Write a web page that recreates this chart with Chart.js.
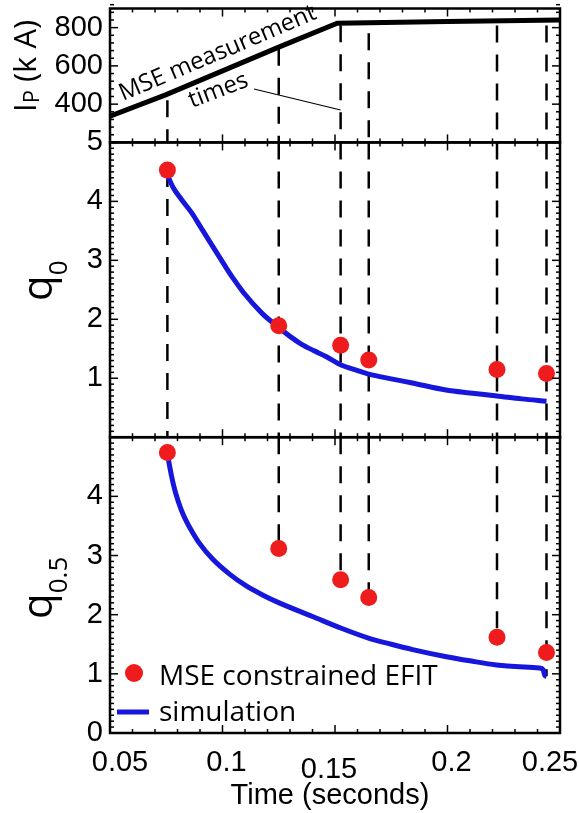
<!DOCTYPE html>
<html>
<head>
<meta charset="utf-8">
<script src="https://cdn.jsdelivr.net/npm/chart.js@4.4.1/dist/chart.umd.min.js"></script>
<style>
html,body{margin:0;padding:0;background:#fff;}
#wrap{width:579px;height:813px;}
</style>
</head>
<body>
<div id="wrap"><canvas id="c" width="579" height="813"></canvas></div>
<script>
/* ===== data ===== */
const mseTimes = [0.0755, 0.125, 0.1525, 0.165, 0.222, 0.244];
const q0Efit   = [4.53, 1.89, 1.56, 1.31, 1.15, 1.08];
const q05Efit  = [4.74, 3.12, 2.59, 2.29, 1.62, 1.36];

const ipTime = [0.05, 0.075, 0.125, 0.151, 0.2, 0.25];
const ipKA   = [337, 450, 698, 823, 832, 840];

// extents of the dashed "MSE measurement times" markers in each panel
const ipDashTop  = [420, 690, 812, 770, 811, 811];
const q0DashTop  = [4.53, 5, 5, 5, 5, 5];
const q05DashEnd = [null, 3.12, 2.59, 2.29, 1.62, 0.96];

const q0SimT = [0.0755, 0.078, 0.0816, 0.0864, 0.09, 0.0946, 0.1012, 0.105, 0.1094, 0.1176, 0.125,
                0.13, 0.135, 0.1405, 0.146, 0.1525, 0.16, 0.165, 0.175, 0.1844, 0.1993, 0.21, 0.222, 0.233, 0.244];
const q0Sim  = [4.45, 4.24, 4.04, 3.80, 3.58, 3.30, 2.90, 2.68, 2.45, 2.10, 1.86,
                1.71, 1.58, 1.47, 1.37, 1.23, 1.13, 1.07, 0.99, 0.92, 0.80, 0.75, 0.70, 0.65, 0.61];

const q05SimT = [0.0755, 0.0764, 0.078, 0.0793, 0.0815, 0.0838, 0.0867, 0.0897, 0.0956, 0.103, 0.1104, 0.118, 0.1252,
                 0.14, 0.1528, 0.1652, 0.175, 0.1845, 0.1995, 0.21, 0.2217, 0.232, 0.2408, 0.2425, 0.2433, 0.244];
const q05Sim  = [4.74, 4.53, 4.23, 4.04, 3.79, 3.59, 3.39, 3.21, 2.94, 2.69, 2.49, 2.33, 2.20,
                 1.97, 1.77, 1.60, 1.50, 1.41, 1.29, 1.22, 1.15, 1.12, 1.10, 1.07, 0.97, 0.96];

const xTicks      = [0.05, 0.1, 0.15, 0.2, 0.25];
const xTickLabels = ["0.05", "0.1", "0.15", "0.2", "0.25"];
const ipTicks  = [400, 600, 800];
const q0Ticks  = [1, 2, 3, 4, 5];
const q05Ticks = [0, 1, 2, 3, 4];

/* ===== styles ===== */
const RED = "#ee1c1c", BLUE = "#1616dc";
const TICK_FONT = '"Liberation Sans", Arial, sans-serif';
const LABEL_FONT = '"Open Sans", "Noto Sans", sans-serif';

const pts = (xs, ys) => xs.map((x, i) => ({x, y: ys[i]}));
const dashSet = (t, a, b, axis) => ({
    data: [{x: t, y: a}, {x: t, y: b}], yAxisID: axis, showLine: true,
    borderColor: "#000", borderWidth: 2.5, borderDash: [17, 12], pointRadius: 0, order: 10
});

const datasets = [];
mseTimes.forEach((t, i) => {
    datasets.push(dashSet(t, ipDashTop[i], 200, "yIp"));
    datasets.push(dashSet(t, q0DashTop[i], 0, "yQ0"));
    if (q05DashEnd[i] != null) datasets.push(dashSet(t, 5, q05DashEnd[i], "yQ5"));
});
datasets.push({label: "Ip", data: pts(ipTime, ipKA), yAxisID: "yIp", showLine: true,
    borderColor: "#000", borderWidth: 5, pointRadius: 0, order: 5});
datasets.push({label: "simulation", data: pts(q0SimT, q0Sim), yAxisID: "yQ0", showLine: true,
    borderColor: BLUE, borderWidth: 5, pointRadius: 0, cubicInterpolationMode: "monotone", order: 4});
datasets.push({label: "simulation", data: pts(q05SimT, q05Sim), yAxisID: "yQ5", showLine: true,
    borderColor: BLUE, borderWidth: 5, pointRadius: 0, cubicInterpolationMode: "monotone", order: 4});
datasets.push({label: "MSE constrained EFIT", data: pts(mseTimes, q0Efit), yAxisID: "yQ0",
    backgroundColor: RED, borderWidth: 0, pointRadius: 8.5, order: 1});
datasets.push({label: "MSE constrained EFIT", data: pts(mseTimes, q05Efit), yAxisID: "yQ5",
    backgroundColor: RED, borderWidth: 0, pointRadius: 8.5, order: 1});

/* ===== stacked y axes ===== */
function yAxis(min, max, ticks, weight, stackWeight) {
    return {
        type: "linear", position: "left", stack: "panels", stackWeight, weight, min, max,
        afterBuildTicks: s => { s.ticks = ticks.map(v => ({value: v})); },
        afterFit: s => { s.width = 110; s.paddingTop = 0; s.paddingBottom = 0; },
        ticks: {color: "#000", padding: 7, autoSkip: false, font: {family: TICK_FONT, size: 29}},
        grid: {display: false, drawTicks: false},
        border: {display: false}
    };
}

/* ===== frame, inward ticks and text ===== */
const panels = [{id: "yIp", minor: 40, major: 200}, {id: "yQ0", minor: 0.1, major: 1}, {id: "yQ5", minor: 0.1, major: 1}];
const xNudge = [[10, 0], [4, 0], [-6, 7], [4, 0], [-10, 0]];

const framePlugin = {
    id: "frame",
    afterDraw(chart) {
        const {ctx, chartArea: ca, scales} = chart, sx = scales.x;
        const seg = (x1, y1, x2, y2) => { ctx.beginPath(); ctx.moveTo(x1, y1); ctx.lineTo(x2, y2); ctx.stroke(); };
        ctx.save();
        ctx.strokeStyle = "#000";
        panels.forEach(p => {
            const s = scales[p.id];
            ctx.lineWidth = 1.5;
            for (let k = 0; k <= 20; k++) {
                const px = sx.getPixelForValue(0.05 + k * 0.01), L = k % 5 === 0 ? 8 : 4;
                seg(px, s.top, px, s.top + L); seg(px, s.bottom, px, s.bottom - L);
            }
            const n = Math.round((s.max - s.min) / p.minor);
            for (let k = 0; k <= n; k++) {
                const v = s.min + k * p.minor, py = s.getPixelForValue(v);
                const r = v / p.major, L = Math.abs(r - Math.round(r)) < 1e-6 ? 8 : 4;
                seg(ca.left, py, ca.left + L, py); seg(ca.right, py, ca.right - L, py);
            }
            ctx.lineWidth = 2.5;
            ctx.strokeRect(ca.left, s.top, ca.right - ca.left, s.bottom - s.top);
        });

        // x tick labels + title
        ctx.fillStyle = "#000";
        ctx.font = "29px " + TICK_FONT;
        ctx.textAlign = "center"; ctx.textBaseline = "alphabetic";
        xTicks.forEach((v, i) => ctx.fillText(xTickLabels[i], sx.getPixelForValue(v) + xNudge[i][0], ca.bottom + 38 + xNudge[i][1]));
        ctx.fillText("Time (seconds)", (ca.left + ca.right) / 2 - 5, ca.bottom + 71);
        ctx.textAlign = "left";

        // rotated y titles with subscripts
        const vtitle = (x, y, parts) => {
            ctx.save(); ctx.translate(x, y); ctx.rotate(-Math.PI / 2);
            let cx = 0;
            parts.forEach(([txt, size, dy]) => {
                ctx.font = size + "px " + LABEL_FONT;
                ctx.fillText(txt, cx, dy);
                cx += ctx.measureText(txt).width;
            });
            ctx.restore();
        };
        vtitle(36, 112, [["I", 31, 0], ["P", 22, 3], [" (k A)", 31, 0]]);
        vtitle(52, 301, [["q", 42, 0], ["0", 26, 15]]);
        vtitle(52, 619, [["q", 42, 0], ["0.5", 26, 15]]);

        // annotation in the current panel
        ctx.font = "24px " + LABEL_FONT;
        ctx.save(); ctx.translate(123, 101); ctx.rotate(-23 * Math.PI / 180); ctx.fillText("MSE measurement", 0, 0); ctx.restore();
        ctx.save(); ctx.translate(192, 108); ctx.rotate(-21 * Math.PI / 180); ctx.fillText("times", 0, 0); ctx.restore();
        ctx.lineWidth = 1.2;
        seg(254, 89, sx.getPixelForValue(mseTimes[2]), 110);

        // legend inside the lower panel
        const lx = ca.left;
        ctx.fillStyle = RED;
        ctx.beginPath(); ctx.arc(lx + 24, 673, 9, 0, Math.PI * 2); ctx.fill();
        ctx.strokeStyle = BLUE; ctx.lineWidth = 5;
        seg(lx + 7, 712, lx + 39, 712);
        ctx.fillStyle = "#000";
        ctx.font = "28px " + LABEL_FONT;
        ctx.fillText("MSE constrained EFIT", lx + 49, 685);
        ctx.fillText("simulation", lx + 49, 721);
        ctx.restore();
    }
};

new Chart(document.getElementById("c"), {
    type: "scatter",
    data: {datasets},
    options: {
        responsive: false, animation: false, devicePixelRatio: 1,
        layout: {padding: {left: 0, top: 8, right: 19, bottom: 0}},
        plugins: {legend: {display: false}, tooltip: {enabled: false}},
        scales: {
            x: {type: "linear", position: "bottom", min: 0.05, max: 0.25,
                ticks: {display: false}, grid: {display: false, drawTicks: false}, border: {display: false},
                afterFit: s => { s.height = 80; s.paddingLeft = 0; s.paddingRight = 0; }},
            yIp: yAxis(200, 900, ipTicks, 3, 134),
            yQ0: yAxis(0, 5, q0Ticks, 2, 295),
            yQ5: yAxis(0, 5, q05Ticks, 1, 296)
        }
    },
    plugins: [framePlugin]
});
</script>
</body>
</html>
